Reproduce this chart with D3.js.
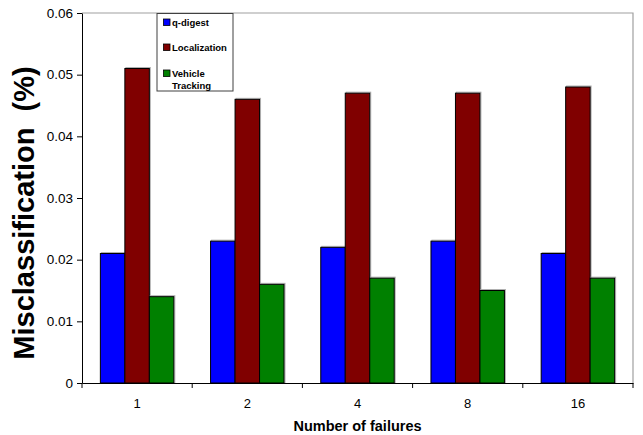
<!DOCTYPE html>
<html><head><meta charset="utf-8">
<script src="https://cdn.jsdelivr.net/npm/d3@7"></script>
<style>body{margin:0;background:#fff}svg{display:block}</style>
</head><body>
<svg id="c" width="643" height="435"></svg>
<script>
const categories = ["1", "2", "4", "8", "16"];
const seriesNames = ["q-digest", "Localization", "Vehicle Tracking"];
const qDigest = [0.021, 0.023, 0.022, 0.023, 0.021];
const localization = [0.051, 0.046, 0.047, 0.047, 0.048];
const vehicleTracking = [0.014, 0.016, 0.017, 0.015, 0.017];
const yTicks = [0, 0.01, 0.02, 0.03, 0.04, 0.05, 0.06];
const colors = ["#0000ff", "#800000", "#008000"];

const series = [qDigest, localization, vehicleTracking];
const svg = d3.select("#c");
const L = 82, R = 633, T = 13, B = 383;
const font = "'Liberation Sans', Arial, sans-serif";

const x = d3.scaleBand().domain(categories).range([L, R]).paddingInner(0).paddingOuter(0);
const xs = d3.scaleBand().domain(d3.range(3)).range([0, x.bandwidth()]).paddingInner(0).paddingOuter(0.75);
const y = d3.scaleLinear().domain([0, 0.06]).range([B, T]);

// plot frame (top/right gray)
svg.append("path").attr("d", `M${L},${T}H${R}V${B}`).attr("fill", "none").attr("stroke", "#a0a0a0").attr("stroke-width", 1.2);

// bars
categories.forEach((c, i) => {
  series.forEach((s, j) => {
    const x0 = x(c) + xs(j);
    svg.append("rect").attr("x", x0 + 1).attr("y", y(s[i]) - 1).attr("width", xs.bandwidth()).attr("height", B - y(s[i]) + 1)
      .attr("fill", "none").attr("stroke", "#b0b0b0").attr("stroke-width", 1);
    svg.append("rect").attr("x", x0).attr("y", y(s[i])).attr("width", xs.bandwidth()).attr("height", B - y(s[i]))
      .attr("fill", colors[j]).attr("stroke", "#000").attr("stroke-width", 1);
  });
});

// y axis
const yAxis = d3.axisLeft(y).tickValues(yTicks).tickFormat(d => d === 0 ? "0" : d3.format(".2f")(d)).tickSize(5).tickSizeOuter(0);
const gy = svg.append("g").attr("transform", `translate(${L},0)`).call(yAxis);
gy.select(".domain").attr("stroke", "#000");
gy.selectAll(".tick line").attr("stroke", "#000");
gy.selectAll("text").attr("font-family", font).attr("font-size", 13.5).attr("fill", "#000").attr("x", -9);

// x axis
const xAxis = d3.axisBottom(x).tickSize(0).tickSizeOuter(0);
const gx = svg.append("g").attr("transform", `translate(0,${B})`).call(xAxis);
gx.select(".domain").attr("stroke", "#000");
gx.selectAll("text").attr("font-family", font).attr("font-size", 13).attr("fill", "#000").attr("dy", 0).attr("y", 25);
const bounds = categories.map(c => x(c)).concat([R]);
gx.selectAll(".bnd").data(bounds).enter().append("line").attr("x1", d => d).attr("x2", d => d).attr("y1", 0).attr("y2", 5).attr("stroke", "#000");

// titles
svg.append("text").attr("x", (L + R) / 2).attr("y", 431).attr("text-anchor", "middle")
  .attr("font-family", font).attr("font-weight", "bold").attr("font-size", 14.5).text("Number of failures");
svg.append("text").attr("transform", `translate(34,${213}) rotate(-90)`).attr("text-anchor", "middle")
  .attr("font-family", font).attr("font-weight", "bold").attr("font-size", 29).attr("xml:space", "preserve").style("white-space", "pre").text("Misclassification  (%)");

// legend
const lg = svg.append("g");
lg.append("rect").attr("x", 157).attr("y", 13.5).attr("width", 76).attr("height", 77.5).attr("fill", "#fff").attr("stroke", "#404040").attr("stroke-width", 1);
const ly = [22.5, 47.5, 73.5];
seriesNames.forEach((n, j) => {
  lg.append("rect").attr("x", 163.5).attr("y", ly[j] - 3.5).attr("width", 6.5).attr("height", 6.5).attr("fill", colors[j]).attr("stroke", "#000").attr("stroke-width", 0.8);
  const t = lg.append("text").attr("x", 172).attr("y", ly[j] + 3.5).attr("font-family", font).attr("font-weight", "bold").attr("font-size", 9.5);
  const words = j === 2 ? ["Vehicle", "Tracking"] : [n];
  words.forEach((w, k) => t.append("tspan").attr("x", 172).attr("dy", k === 0 ? 0 : 11.5).text(w));
});
</script>
</body></html>
